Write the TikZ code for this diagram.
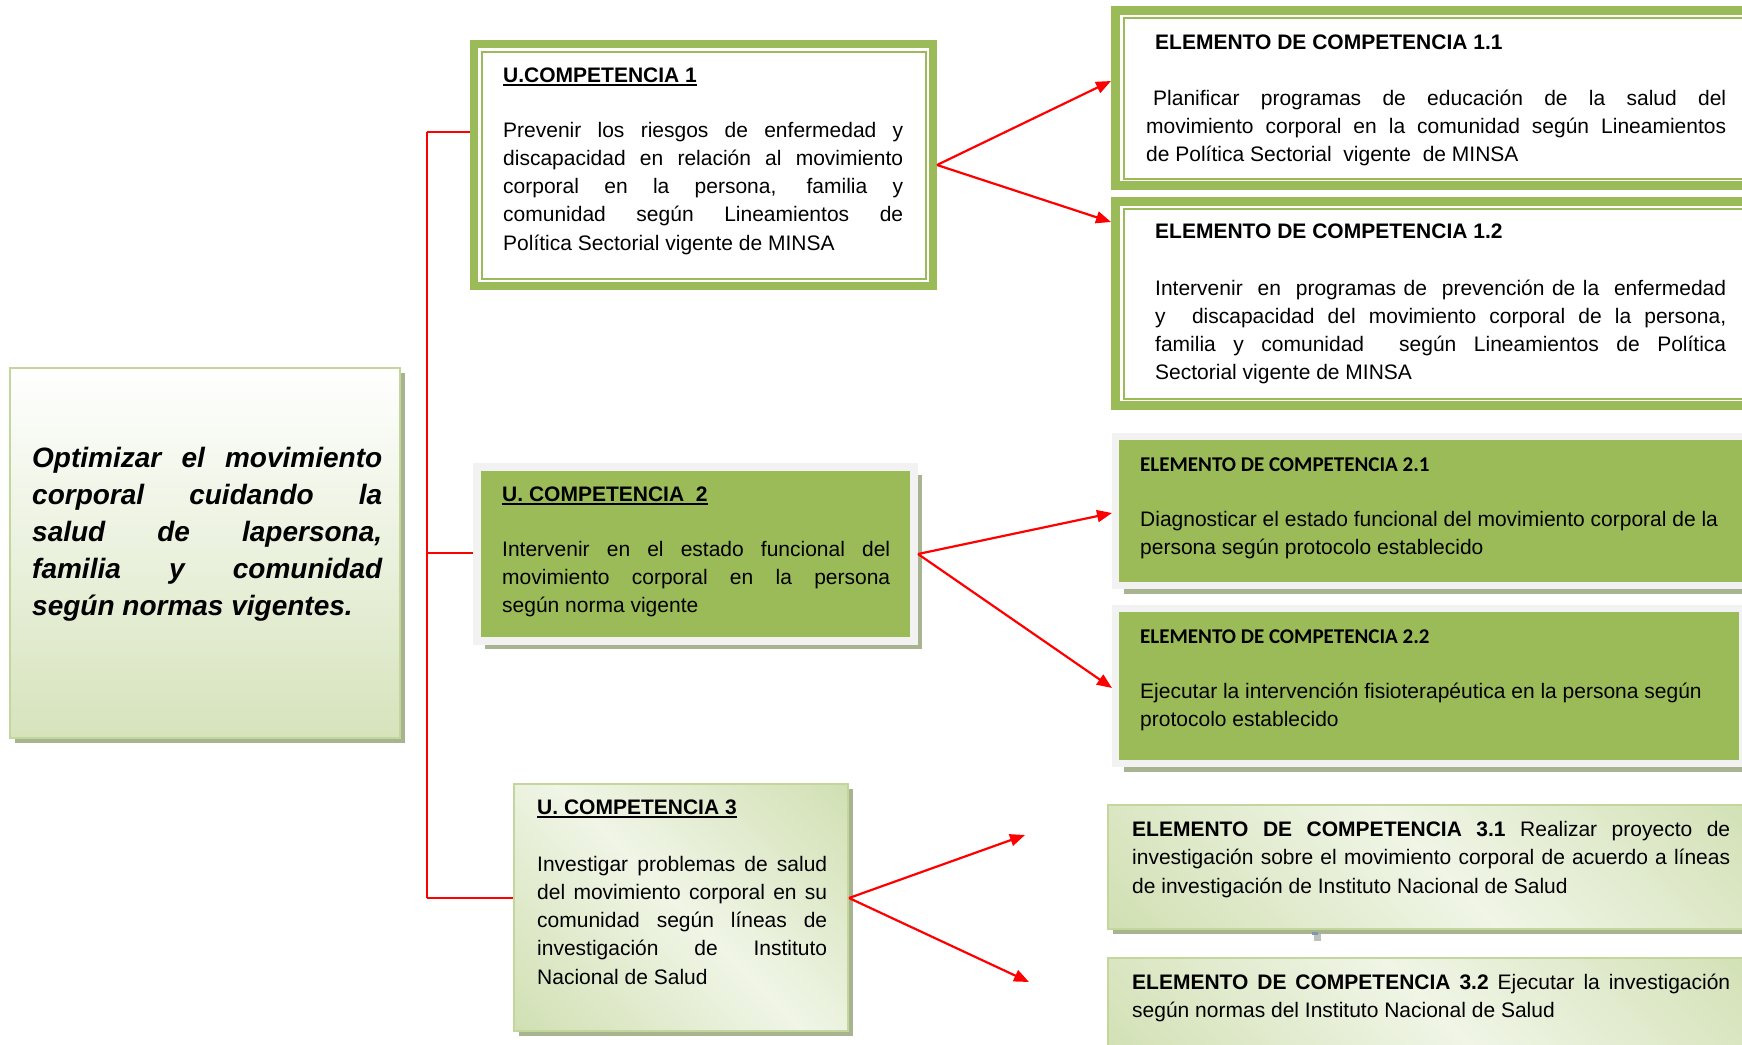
\documentclass[tikz,border=0pt]{standalone}
\usepackage{fontspec}
\setmainfont{Liberation Sans}
\newfontfamily\calib{Carlito}
\usetikzlibrary{arrows.meta,shadows,calc}
\definecolor{ogreen}{HTML}{9BBB59}
\definecolor{lgreen}{HTML}{C3D69B}
\definecolor{pgreen}{HTML}{D6E3BC}
\definecolor{gframe}{HTML}{F2F2F2}
\definecolor{shad}{HTML}{A7B48F}
\definecolor{shA}{HTML}{C4D79E}
\definecolor{shB}{HTML}{F0F5E6}
\definecolor{artA}{HTML}{7F98B0}
\definecolor{artB}{HTML}{BFBFBF}
\pgfdeclarehorizontalshading{diagsh}{100bp}{color(0bp)=(shA); color(50bp)=(shB); color(100bp)=(shA)}
\newcommand\jl[1]{\makebox[\linewidth][s]{#1}\\}
\newcommand\ulin[1]{\leavevmode\setbox0\hbox{#1}\rlap{\rule[-3.6pt]{\wd0}{1.8pt}}\box0}
\tikzset{
  dframe/.style={draw=ogreen, line width=8pt, fill=white, inner sep=0pt},
  innerline/.style={draw=ogreen, line width=2pt},
  gbox/.style={draw=gframe, fill=ogreen, line width=7pt, inner sep=0pt,
    drop shadow={shadow xshift=8pt, shadow yshift=-8pt, fill=shad, opacity=1}},
  lbox/.style={draw=lgreen, line width=2pt, inner sep=0pt,
    drop shadow={shadow xshift=5pt, shadow yshift=-5pt, fill=shad, opacity=1}},
  txt/.style={anchor=base west, inner sep=0pt, font=\fontsize{21}{28.3}\selectfont},
  brk/.style={draw=red, line width=1.8pt},
  arr/.style={draw=red, line width=2.2pt, -{Triangle[length=15pt,width=12pt]}},
}
\begin{document}
\begin{tikzpicture}[x=1pt,y=-1pt]
\useasboundingbox (0,0) rectangle (1742,1044);
\clip (0,0) rectangle (1742,1044);

% left box
\node[lbox, top color=white, bottom color=pgreen, minimum width=390pt, minimum height=370pt] (L) at (205,553) {};
\node[txt, font=\fontsize{28}{37}\selectfont\bfseries\itshape] (Lt) at (32,467) {\parbox[t]{350pt}{%
\jl{Optimizar el movimiento}\jl{corporal cuidando la}\jl{salud de lapersona,}\jl{familia y comunidad}según normas vigentes.}};

% U1
\node[dframe, minimum width=459pt, minimum height=242pt] (u1) at (703.5,165) {};
\draw[innerline] ($(u1.north west)+(11.5,11.5)$) rectangle ($(u1.south east)+(-11.5,-11.5)$);
\node[txt] (u1t) at (503,82) {\parbox[t]{400pt}{\ulin{\textbf{U.COMPETENCIA 1}}\\[26.7pt]%
\jl{Prevenir los riesgos de enfermedad y}\jl{discapacidad en relación al movimiento}\jl{corporal en la persona, familia y}\jl{comunidad según Lineamientos de}Política Sectorial vigente de MINSA}};

% U2
\node[gbox, line width=8pt, minimum width=437pt, minimum height=174pt] (u2) at (695.5,554) {};
\node[txt] (u2t) at (502,501) {\parbox[t]{388pt}{\ulin{\textbf{U. COMPETENCIA\ \ 2}}\\[26.7pt]%
\jl{Intervenir en el estado funcional del}\jl{movimiento corporal en la persona}según norma vigente}};

% U3
\node[lbox, shading=diagsh, shading angle=45, minimum width=334pt, minimum height=247pt] (u3) at (681,907.5) {};
\node[txt] (u3t) at (537,814) {\parbox[t]{290pt}{\ulin{\textbf{U. COMPETENCIA 3}}\\[28.7pt]%
\jl{Investigar problemas de salud}\jl{del movimiento corporal en su}\jl{comunidad según líneas de}\jl{investigación de Instituto}Nacional de Salud}};

% E1.1, E1.2
\node[dframe, line width=9pt, minimum width=645pt, minimum height=175pt] (e11) at (1438,98) {};
\draw[innerline] ($(e11.north west)+(12.5,11.5)$) rectangle ($(e11.south east)+(-12.5,-11.5)$);
\node[txt] (e11t) at (1146,49) {\parbox[t]{580pt}{\hspace*{9pt}\textbf{ELEMENTO DE COMPETENCIA 1.1}\\[27.7pt]%
\jl{\hspace*{7pt}Planificar programas de educación de la salud del}\jl{movimiento corporal en la comunidad según Lineamientos}de Política Sectorial\ \ vigente\ \ de MINSA}};

\node[dframe, line width=9pt, minimum width=645pt, minimum height=204pt] (e12) at (1438,303.5) {};
\draw[innerline] ($(e12.north west)+(12.5,11.5)$) rectangle ($(e12.south east)+(-12.5,-11.5)$);
\node[txt] (e12t) at (1155,238) {\parbox[t]{571pt}{\leavevmode\textbf{ELEMENTO DE COMPETENCIA 1.2}\\[28.7pt]%
\jl{Intervenir\ \ en\ \ programas de\ \ prevención de la\ \ enfermedad}\jl{y\ \ discapacidad del movimiento corporal de la persona,}\jl{familia y comunidad\ \ según Lineamientos de Política}Sectorial vigente de MINSA}};

% E2.1, E2.2
\node[gbox, minimum width=651pt, minimum height=149pt] (e21) at (1441,511) {};
\node[txt] (e21t) at (1140,471) {\parbox[t]{600pt}{\leavevmode{\calib\bfseries ELEMENTO DE COMPETENCIA 2.1}\\[26.7pt]%
Diagnosticar el estado funcional del movimiento corporal de la\\persona según protocolo establecido}};

\node[gbox, minimum width=627pt, minimum height=155pt] (e22) at (1429,686) {};
\node[txt] (e22t) at (1140,643) {\parbox[t]{600pt}{\leavevmode{\calib\bfseries ELEMENTO DE COMPETENCIA 2.2}\\[26.7pt]%
Ejecutar la intervención fisioterapéutica en la persona según\\protocolo establecido}};

% E3.1, E3.2
\node[lbox, shading=diagsh, shading angle=45, minimum width=661pt, minimum height=124pt] (e31) at (1438.5,867) {};
\node[txt, font=\fontsize{21}{28.5}\selectfont] (e31t) at (1132,836) {\parbox[t]{598pt}{%
\jl{\textbf{ELEMENTO DE COMPETENCIA 3.1} Realizar proyecto de}\jl{investigación sobre el movimiento corporal de acuerdo a líneas}de investigación de Instituto Nacional de Salud}};
\fill[artB] (1314,934) rectangle (1321,941);
\fill[artA] (1312,931.5) rectangle (1318,935);

\node[lbox, shading=diagsh, shading angle=45, minimum width=661pt, minimum height=111pt] (e32) at (1438.5,1013.5) {};
\node[txt] (e32t) at (1132,989) {\parbox[t]{598pt}{%
\jl{\textbf{ELEMENTO DE COMPETENCIA 3.2} Ejecutar la investigación}según normas del Instituto Nacional de Salud}};

% bracket connectors
\coordinate (b1) at (427,132);
\coordinate (b2) at (427,553);
\coordinate (b3) at (427,898);
\draw[brk] (b1) -- (b3);
\draw[brk] (b1) -- (b1 -| u1.west);
\draw[brk] (b2) -- (b2 -| u2.west);
\draw[brk] (b3) -- (b3 -| u3.west);

% arrows
\coordinate (y11) at (0,81);
\coordinate (y12) at (0,222);
\coordinate (y21) at (0,513);
\coordinate (y22) at (0,688);
\coordinate (t31) at (1025,835);
\coordinate (t32) at (1029,982);
\draw[arr] (u1.east) -- (e11.west |- y11);
\draw[arr] (u1.east) -- (e12.west |- y12);
\draw[arr] (u2.east) -- (e21.west |- y21);
\draw[arr] (u2.east) -- (e22.west |- y22);
\draw[arr] (u3.east |- b3) -- (t31);
\draw[arr] (u3.east |- b3) -- (t32);
\end{tikzpicture}
\end{document}
